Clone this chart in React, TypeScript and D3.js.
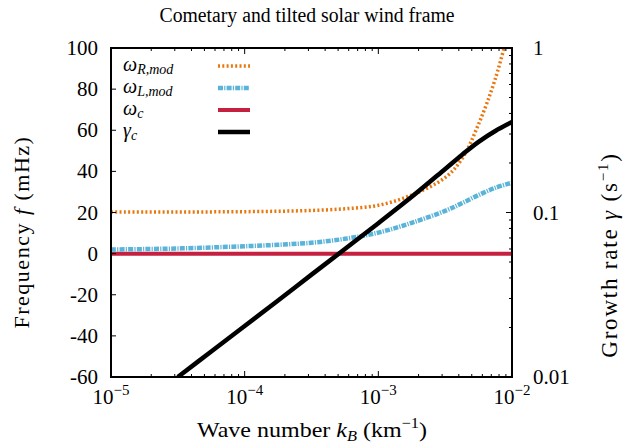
import React from "react";
import * as d3 from "d3";

// Wave number samples (km^-1)
const kValues = [
  1e-5, 1.778e-5, 3.162e-5, 5.623e-5, 1e-4, 1.778e-4, 3.162e-4, 5.623e-4,
  1e-3, 1.778e-3, 3.162e-3, 4.217e-3, 5.623e-3, 7.499e-3, 1e-2,
];
// Modified right-hand frequency (mHz)
const omegaR = [20.2, 20.2, 20.2, 20.3, 20.4, 20.6, 21.0, 21.8, 23.5, 28.5, 37, 46, 63, 85, 115];
// Modified left-hand frequency (mHz)
const omegaL = [2.0, 2.2, 2.5, 3.0, 3.6, 4.3, 5.3, 7.2, 10.2, 15, 20.8, 24.5, 28.5, 32, 34.5];
// Cyclotron frequency (mHz)
const omegaC = [0, 0, 0, 0, 0, 0, 0, 0, 0, 0, 0, 0, 0, 0, 0];
// Growth rate (s^-1); starts where it enters the axis range
const gammaK = [3.162e-5, 5.623e-5, 1e-4, 1.778e-4, 3.162e-4, 5.623e-4, 1e-3, 1.778e-3, 3.162e-3, 4.217e-3, 5.623e-3, 7.499e-3, 1e-2];
const gammaC = [0.01, 0.0143, 0.0204, 0.0292, 0.0419, 0.060, 0.0861, 0.1245, 0.184, 0.224, 0.269, 0.313, 0.355];

const leftTicks = [100, 80, 60, 40, 20, 0, -20, -40, -60];
const rightTicks = [1, 0.1, 0.01];
const rightTickLabels = ["1", "0.1", "0.01"];
const xTicks = [1e-5, 1e-4, 1e-3, 1e-2];
const xTickExp = ["\u22125", "\u22124", "\u22123", "\u22122"];

const W = 624;
const H = 447;
const M = { left: 111, right: 512, top: 48, bottom: 377 };
const FONT = '"Liberation Serif", "DejaVu Serif", serif';

export default function App() {
  const x = d3.scaleLog().domain([1e-5, 1e-2]).range([M.left, M.right]);
  const yL = d3.scaleLinear().domain([-60, 100]).range([M.bottom, M.top]);
  const yR = d3.scaleLog().domain([0.01, 1]).range([M.bottom, M.top]);

  const freqLine = d3
    .line<[number, number]>()
    .x((d) => x(d[0]))
    .y((d) => yL(d[1]))
    .curve(d3.curveCatmullRom.alpha(0.5));
  const gammaLine = d3
    .line<[number, number]>()
    .x((d) => x(d[0]))
    .y((d) => yR(d[1]))
    .curve(d3.curveCatmullRom.alpha(0.5));

  const zip = (a: number[], b: number[]) => a.map((v, i) => [v, b[i]] as [number, number]);

  // minor log ticks
  const minorX: number[] = [];
  for (let e = -5; e < -2; e++) for (let m = 2; m <= 9; m++) minorX.push(m * Math.pow(10, e));
  const minorR: number[] = [];
  for (let e = -2; e < 0; e++) for (let m = 2; m <= 9; m++) minorR.push(m * Math.pow(10, e));

  const legend = [
    { main: "\u03c9", sub: "R,mod", color: "#e8770e", dash: "2,2.3", width: 3.5 },
    { main: "\u03c9", sub: "L,mod", color: "#5ab3d8", dash: "5,1.2,1.2,1.2", width: 4.5 },
    { main: "\u03c9", sub: "c", color: "#c5203f", dash: null, width: 4 },
    { main: "\u03b3", sub: "c", color: "#000000", dash: null, width: 4.5 },
  ];

  return (
    <svg width={W} height={H} style={{ position: "absolute", left: 0, top: 0, fontFamily: FONT }}>
      <rect width={W} height={H} fill="#fff" />
      <defs>
        <clipPath id="plotClip">
          <rect x={M.left} y={M.top} width={M.right - M.left} height={M.bottom - M.top} />
        </clipPath>
      </defs>

      <text
        x={307}
        y={22}
        textAnchor="middle"
        fontSize={20}
        textLength={295}
        lengthAdjust="spacingAndGlyphs"
      >
        Cometary and tilted solar wind frame
      </text>

      {/* curves */}
      <g clipPath="url(#plotClip)" fill="none">
        <path d={freqLine(zip(kValues, omegaC)) || ""} stroke="#c5203f" strokeWidth={4} />
        <path d={freqLine(zip(kValues, omegaL)) || ""} stroke="#5ab3d8" strokeWidth={4.5} strokeDasharray="5,1.2,1.2,1.2" />
        <path d={freqLine(zip(kValues, omegaR)) || ""} stroke="#e8770e" strokeWidth={3.5} strokeDasharray="2,2.3" />
        <path d={gammaLine(zip(gammaK, gammaC)) || ""} stroke="#000" strokeWidth={4.5} />
      </g>

      {/* legend */}
      {legend.map((l, i) => {
        const yy = 66 + i * 22;
        return (
          <g key={i}>
            <text x={123} y={yy + 5} fontSize={20} fontStyle="italic">
              {l.main}
              <tspan fontSize={14} dy={3}>{l.sub}</tspan>
            </text>
            <line
              x1={218}
              x2={250}
              y1={yy}
              y2={yy}
              stroke={l.color}
              strokeWidth={l.width}
              strokeDasharray={l.dash || undefined}
            />
          </g>
        );
      })}

      {/* ticks */}
      <g stroke="#000" strokeWidth={1}>
        {leftTicks.map((t) => (
          <line key={"l" + t} x1={M.left} x2={M.left + 5} y1={yL(t)} y2={yL(t)} />
        ))}
        {rightTicks.map((t) => (
          <line key={"r" + t} x1={M.right} x2={M.right - 6} y1={yR(t)} y2={yR(t)} />
        ))}
        {minorR.map((t) => (
          <line key={"rm" + t} x1={M.right} x2={M.right - 3} y1={yR(t)} y2={yR(t)} />
        ))}
        {xTicks.map((t) => (
          <g key={"x" + t}>
            <line x1={x(t)} x2={x(t)} y1={M.bottom} y2={M.bottom - 6} />
            <line x1={x(t)} x2={x(t)} y1={M.top} y2={M.top + 6} />
          </g>
        ))}
        {minorX.map((t) => (
          <g key={"xm" + t}>
            <line x1={x(t)} x2={x(t)} y1={M.bottom} y2={M.bottom - 3} />
            <line x1={x(t)} x2={x(t)} y1={M.top} y2={M.top + 3} />
          </g>
        ))}
      </g>

      {/* frame */}
      <rect
        x={M.left}
        y={M.top}
        width={M.right - M.left}
        height={M.bottom - M.top}
        fill="none"
        stroke="#000"
        strokeWidth={2}
      />

      {/* tick labels */}
      {leftTicks.map((t) => (
        <text key={"lt" + t} x={98} y={yL(t) + 7} textAnchor="end" fontSize={21}>
          {t}
        </text>
      ))}
      {rightTicks.map((t, i) => (
        <text key={"rt" + t} x={533} y={yR(t) + 7} textAnchor="start" fontSize={21}>
          {rightTickLabels[i]}
        </text>
      ))}
      {xTicks.map((t, i) => (
        <text key={"xt" + t} x={x(t)} y={404} textAnchor="middle" fontSize={21}>
          10
          <tspan fontSize={15} dy={-9}>{xTickExp[i]}</tspan>
        </text>
      ))}

      {/* axis titles */}
      <text
        x={312}
        y={437}
        textAnchor="middle"
        fontSize={22}
        textLength={230}
        lengthAdjust="spacingAndGlyphs"
      >
        Wave number <tspan fontStyle="italic">k</tspan>
        <tspan fontStyle="italic" fontSize={15} dy={4}>B</tspan>
        <tspan dy={-4}> (km</tspan>
        <tspan fontSize={15} dy={-9}>{"\u22121"}</tspan>
        <tspan dy={9}>)</tspan>
      </text>
      <text
        transform={`translate(29, 232) rotate(-90)`}
        textAnchor="middle"
        fontSize={22}
        letterSpacing={1.5}
      >
        Frequency <tspan fontStyle="italic">f</tspan> (mHz)
      </text>
      <text
        transform={`translate(617, 255) rotate(-90)`}
        textAnchor="middle"
        fontSize={23}
        letterSpacing={1.8}
      >
        Growth rate <tspan fontStyle="italic">{"\u03b3"}</tspan> (s
        <tspan fontSize={15} dy={-9}>{"\u22121"}</tspan>
        <tspan dy={9}>)</tspan>
      </text>
    </svg>
  );
}
